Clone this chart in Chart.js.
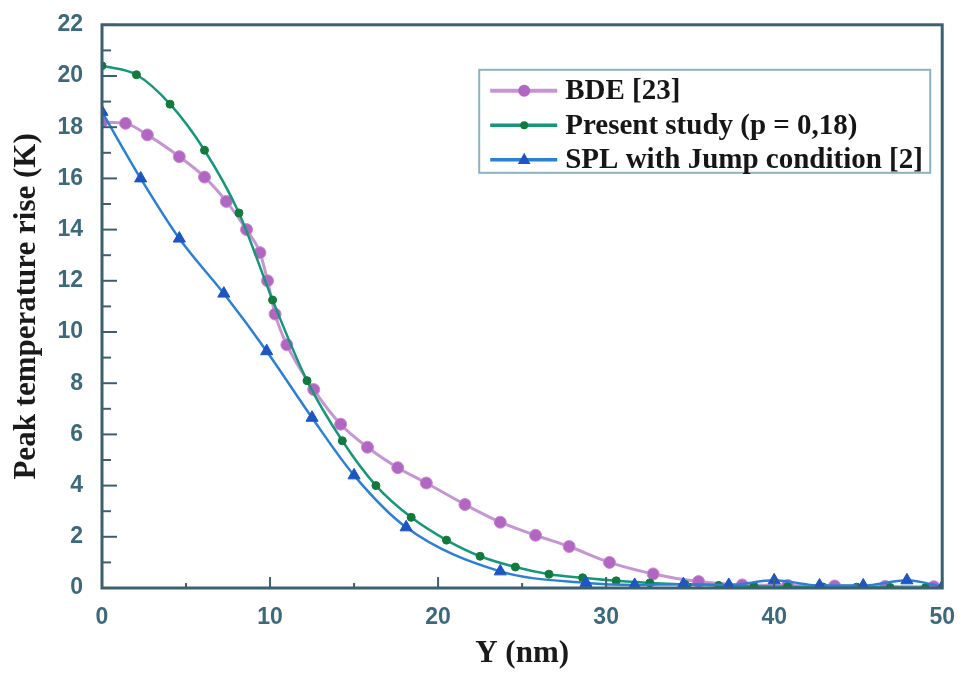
<!DOCTYPE html>
<html>
<head>
<meta charset="utf-8">
<script src="https://cdn.jsdelivr.net/npm/chart.js@4.4.1/dist/chart.umd.min.js"></script>
<style>
html, body { margin: 0; padding: 0; background: #fff; }
#wrap { width: 963px; height: 679px; }
</style>
</head>
<body>
<div id="wrap"><canvas id="peakChart" width="963" height="679"></canvas></div>
<script>
// BDE [23]
var bdeX = [0, 1.4, 2.7, 4.6, 6.1, 7.4, 8.6, 9.4, 9.85, 10.3, 11.0, 12.6, 14.2, 15.8, 17.6, 19.3, 21.6, 23.7, 25.8, 27.8, 30.2, 32.8, 35.5, 38.1, 40.8, 43.6, 46.6, 49.5];
var bdeY = [18.2, 18.15, 17.7, 16.85, 16.05, 15.1, 14.0, 13.1, 12.0, 10.7, 9.5, 7.75, 6.4, 5.5, 4.7, 4.1, 3.26, 2.57, 2.06, 1.62, 1.0, 0.55, 0.25, 0.12, 0.1, 0.08, 0.06, 0.05];

// Present study (p = 0,18)
var presentX = [0, 2.05, 4.05, 6.1, 8.15, 10.15, 12.2, 14.3, 16.3, 18.4, 20.5, 22.5, 24.6, 26.6, 28.6, 30.6, 32.6, 34.7, 36.7, 38.8, 40.8, 42.9, 44.9, 46.9, 49.0];
var presentY = [20.4, 20.05, 18.9, 17.1, 14.65, 11.25, 8.1, 5.75, 4.0, 2.76, 1.87, 1.24, 0.82, 0.54, 0.4, 0.28, 0.2, 0.14, 0.1, 0.07, 0.05, 0.04, 0.03, 0.02, 0.01];

// SPL with Jump condition [2]
var splX = [0, 2.3, 4.6, 7.25, 9.8, 12.5, 15.0, 18.1, 23.7, 28.8, 31.7, 34.6, 37.3, 40.0, 42.7, 45.3, 47.9, 50];
var splY = [18.6, 16.0, 13.65, 11.5, 9.25, 6.65, 4.4, 2.37, 0.65, 0.2, 0.12, 0.15, 0.12, 0.3, 0.1, 0.1, 0.3, 0.05];

var seriesNames = ['BDE [23]', 'Present study (p = 0,18)', 'SPL with Jump condition [2]'];
var xTicks = [0, 10, 20, 30, 40, 50];
var yTicks = [0, 2, 4, 6, 8, 10, 12, 14, 16, 18, 20, 22];

function toPoints(xs, ys) {
  var pts = [];
  for (var i = 0; i < xs.length; i++) {
    pts.push({x: xs[i], y: ys[i]});
  }
  return pts;
}

var axisColor = '#3b6171';
var tickFont = {family: 'Liberation Sans', size: 23, weight: 'bold'};
var titleFont = {family: 'Liberation Serif', size: 31, weight: 'bold'};

// frame around the plot plus inward tick marks
var frameTicks = {
  id: 'frameTicks',
  afterDatasetsDraw: function(chart) {
    var ctx = chart.ctx, a = chart.chartArea;
    var xs = chart.scales.x, ys = chart.scales.y;
    ctx.save();
    ctx.strokeStyle = axisColor;
    ctx.lineWidth = 2;
    for (var v = 0; v <= 22; v++) {
      var py = ys.getPixelForValue(v);
      var len = (v % 2 == 0) ? 15 : 9;
      ctx.beginPath();
      ctx.moveTo(a.left, py);
      ctx.lineTo(a.left + len, py);
      ctx.stroke();
    }
    for (var u = 0; u <= 50; u += 5) {
      var px = xs.getPixelForValue(u);
      var l = (u % 10 == 0) ? 11 : 5;
      ctx.beginPath();
      ctx.moveTo(px, a.bottom);
      ctx.lineTo(px, a.bottom - l);
      ctx.stroke();
    }
    ctx.lineWidth = 3;
    ctx.strokeRect(a.left, a.top, a.right - a.left, a.bottom - a.top);
    ctx.restore();
  }
};

function drawMarker(ctx, style, x, y, r) {
  ctx.beginPath();
  if (style == 'triangle') {
    ctx.moveTo(x, y - r);
    ctx.lineTo(x + r * 0.9, y + r * 0.6);
    ctx.lineTo(x - r * 0.9, y + r * 0.6);
    ctx.closePath();
  } else {
    ctx.arc(x, y, r, 0, Math.PI * 2);
  }
  ctx.fill();
}

// legend sits inside the plot, top right
var innerLegend = {
  id: 'innerLegend',
  afterDraw: function(chart) {
    var ctx = chart.ctx, a = chart.chartArea;
    var boxW = 451, boxH = 103;
    var bx = a.right - 12 - boxW, by = a.top + 45;
    ctx.save();
    ctx.fillStyle = '#fff';
    ctx.fillRect(bx, by, boxW, boxH);
    ctx.strokeStyle = '#8db2c1';
    ctx.lineWidth = 2;
    ctx.strokeRect(bx, by, boxW, boxH);
    ctx.font = 'bold 29px "Liberation Serif"';
    ctx.textBaseline = 'middle';
    chart.data.datasets.forEach(function(ds, i) {
      var y = by + 21 + i * 34.5;
      ctx.strokeStyle = ds.borderColor;
      ctx.lineWidth = ds.borderWidth + 1;
      ctx.beginPath();
      ctx.moveTo(bx + 11, y);
      ctx.lineTo(bx + 78, y);
      ctx.stroke();
      ctx.fillStyle = ds.pointBackgroundColor;
      drawMarker(ctx, ds.pointStyle, bx + 45, y, ds.pointRadius);
      ctx.fillStyle = '#161616';
      ctx.fillText(ds.label, bx + 86, y + 1);
    });
    ctx.restore();
  }
};

var ctx = document.getElementById('peakChart');
var peakChart = new Chart(ctx, {
  type: 'line',
  data: {
    datasets: [{
      label: seriesNames[0],
      data: toPoints(bdeX, bdeY),
      borderColor: '#c696d4',
      borderWidth: 3,
      pointStyle: 'circle',
      pointRadius: 6,
      pointBackgroundColor: '#b166c2',
      pointBorderColor: '#c98ad2',
      pointBorderWidth: 1,
      cubicInterpolationMode: 'monotone',
      order: 3
    }, {
      label: seriesNames[1],
      data: toPoints(presentX, presentY),
      borderColor: '#16977a',
      borderWidth: 2.5,
      pointStyle: 'circle',
      pointRadius: 4,
      pointBackgroundColor: '#127a3c',
      pointBorderColor: '#127a3c',
      pointBorderWidth: 1,
      cubicInterpolationMode: 'monotone',
      order: 2
    }, {
      label: seriesNames[2],
      data: toPoints(splX, splY),
      borderColor: '#2b80d6',
      borderWidth: 2.5,
      pointStyle: 'triangle',
      pointRadius: 7,
      pointBackgroundColor: '#1d55c2',
      pointBorderColor: '#1d55c2',
      pointBorderWidth: 1,
      cubicInterpolationMode: 'monotone',
      order: 1
    }]
  },
  options: {
    responsive: false,
    animation: false,
    devicePixelRatio: 1,
    layout: {padding: {left: 0, top: 22, right: 18, bottom: 0}},
    plugins: {
      legend: {display: false},
      tooltip: {enabled: false}
    },
    scales: {
      x: {
        type: 'linear',
        min: 0,
        max: 50,
        afterBuildTicks: function(scale) {
          scale.ticks = xTicks.map(function(v) { return {value: v}; });
        },
        grid: {display: false},
        border: {display: false},
        ticks: {color: '#3d6a7a', font: tickFont, padding: 8, maxRotation: 0},
        title: {display: true, text: 'Y (nm)', color: '#1a1a1a', font: titleFont, padding: {top: 0, bottom: 6}},
        afterFit: function(scale) { scale.height = 91; }
      },
      y: {
        type: 'linear',
        min: 0,
        max: 22,
        afterBuildTicks: function(scale) {
          scale.ticks = yTicks.map(function(v) { return {value: v}; });
        },
        grid: {display: false},
        border: {display: false},
        ticks: {color: '#3d6a7a', font: tickFont, padding: 11},
        title: {display: true, text: 'Peak temperature rise (K)', color: '#1a1a1a', font: titleFont, padding: {top: 8, bottom: 0}},
        afterFit: function(scale) { scale.width = 102; }
      }
    }
  },
  plugins: [frameTicks, innerLegend]
});
</script>
</body>
</html>
